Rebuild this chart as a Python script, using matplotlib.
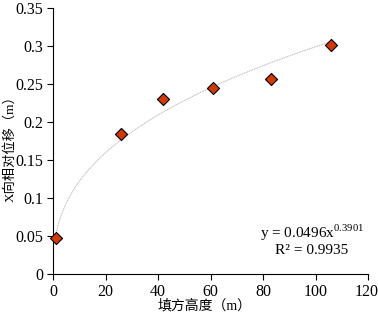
import numpy as np
import matplotlib
matplotlib.use("Agg")
import matplotlib.pyplot as plt
import matplotlib.transforms as mtransforms

plt.rcParams['font.family'] = ['Liberation Serif', 'Noto Sans CJK SC']
plt.rcParams['mathtext.fontset'] = 'custom'
plt.rcParams['mathtext.rm'] = 'Liberation Serif'

heights = [1, 26, 42, 61, 83, 106]
disp = [0.048, 0.184, 0.230, 0.245, 0.256, 0.301]
coef_a = 0.0496
coef_b = 0.3901
xticks = [0, 20, 40, 60, 80, 100, 120]
yticks = [0, 0.05, 0.1, 0.15, 0.2, 0.25, 0.3, 0.35]
ytick_labels = ['0', '0.05', '0.1', '0.15', '0.2', '0.25', '0.3', '0.35']

W, H = 378, 315
fig = plt.figure(figsize=(W / 100, H / 100), dpi=100)
ax = fig.add_axes([53 / W, 1 - 274 / H, 315 / W, 266 / H])

xf = np.linspace(min(heights), max(heights), 300)
ax.plot(xf, coef_a * xf ** coef_b, color='#bfbfbf', lw=0.8, ls=(0, (1, 0.6)), zorder=2)
ax.scatter(heights, disp, marker='D', s=38, facecolor='#d13a08', edgecolor='black', linewidth=0.8, zorder=3, clip_on=False)

ax.set_xlim(0, 120)
ax.set_ylim(0, 0.35)
ax.set_xticks(xticks)
ax.set_yticks(yticks)
ax.set_yticklabels(ytick_labels)
for s in ['top', 'right']:
    ax.spines[s].set_visible(False)
for s in ['left', 'bottom']:
    ax.spines[s].set_linewidth(0.8)
ax.tick_params(direction='out', length=4, width=0.8, labelsize=11.5, pad=3)
xt = ax.get_xticklabels()
xt[-1].set_transform(xt[-1].get_transform() + mtransforms.ScaledTranslation(-1.5 / 100, 0, fig.dpi_scale_trans))

ax.set_xlabel('填方高度（m）', fontsize=10, va='center')
ax.set_ylabel('X向相对位移（m）', fontsize=9.5, va='center')
ax.xaxis.set_label_coords((205 - 53) / 315, -(306 - 274) / 266)
ax.yaxis.set_label_coords(-(53 - 10.5) / 315, (274 - 146) / 266)

ax.text(312 / W, 1 - 233 / H, 'y = 0.0496x$^{0.3901}$', transform=fig.transFigure, ha='center', va='center', fontsize=11)
ax.text(312 / W, 1 - 250 / H, 'R² = 0.9935', transform=fig.transFigure, ha='center', va='center', fontsize=11)

fig.savefig('out.png', dpi=100)
